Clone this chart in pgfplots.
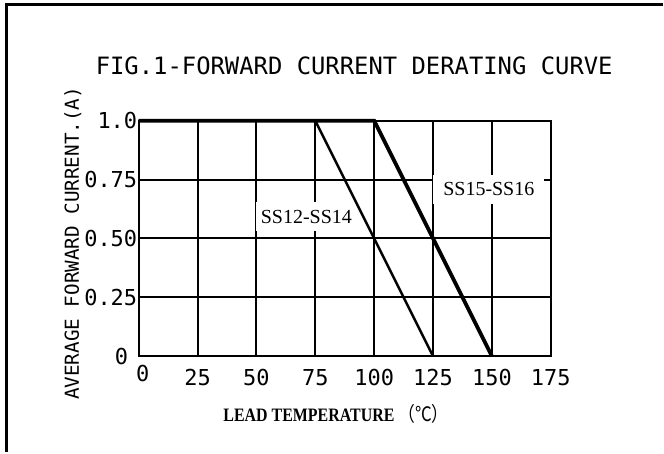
\documentclass[border=0pt]{standalone}
\usepackage{fontspec}
\setmainfont{Liberation Serif}
\newfontfamily\cad{DejaVu Sans Mono}
\newfontfamily\cjk{Noto Sans CJK SC}
\usepackage{pgfplots}
\pgfplotsset{compat=1.18}

\begin{document}
\begin{tikzpicture}
\begin{axis}[
  set layers=standard,
  at={(0pt,0pt)}, anchor=south west,
  scale only axis, width=413pt, height=236pt,
  xmin=0, xmax=175, ymin=0, ymax=1,
  xtick={25,50,...,175}, ytick={0,0.25,0.5,0.75,1},
  extra x ticks={0},
  extra x tick style={xticklabel style={yshift=5pt, xshift=4pt}},
  yticklabels={\raisebox{-4pt}{0}\hspace*{9pt},0.25,0.50,0.75,1.0},
  grid=major, grid style={black, line width=2pt},
  axis line style={line width=2pt},
  major tick length=0pt,
  tick label style={font=\cad\fontsize{22}{22}\selectfont},
  /pgf/number format/assume math mode=true,
  xticklabel style={yshift=-10pt},
  yticklabel style={xshift=2pt},
  clip=false,
  title={FIG.1-FORWARD CURRENT DERATING CURVE},
  title style={at={(rel axis cs:0.523,1.208)}, anchor=center,
    font=\cad\fontsize{23.9}{24}\selectfont},
  xlabel={\scalebox{0.84}[1]{\textbf{LEAD TEMPERATURE} {\cjk\fontsize{20}{20}\selectfont （℃）}}},
  xlabel style={at={(rel axis cs:0.479,-0.246)}, anchor=center,
    font=\fontsize{19}{19}\selectfont},
  ylabel={AVERAGE FORWARD CURRENT.(A)},
  ylabel style={at={(rel axis cs:-0.160,0.479)}, anchor=center,
    font=\cad\fontsize{19.3}{19.3}\selectfont},
]
\node[on layer=pre main, fill=white, inner xsep=5pt, inner ysep=8pt,
  font=\fontsize{20}{20}\selectfont] at (axis cs:71.2,0.593) {SS12-SS14};
\node[on layer=pre main, fill=white, inner xsep=10pt, inner ysep=8pt,
  font=\fontsize{20}{20}\selectfont] at (axis cs:148.7,0.708) {SS15-SS16};

% SS12-SS14
\addplot[black, line width=2.5pt] coordinates {(0,1) (75,1) (125,0)};
% SS15-SS16
\addplot[black, line width=3.8pt] coordinates {(0,1) (100,1) (150,0)};
\end{axis}
\draw[line width=3pt] (-132pt,-96pt) -- (-132pt,352pt) -- (525pt,352pt);
\path[use as bounding box] (-139pt,-96pt) rectangle (525pt,357pt);
\end{tikzpicture}
\end{document}
